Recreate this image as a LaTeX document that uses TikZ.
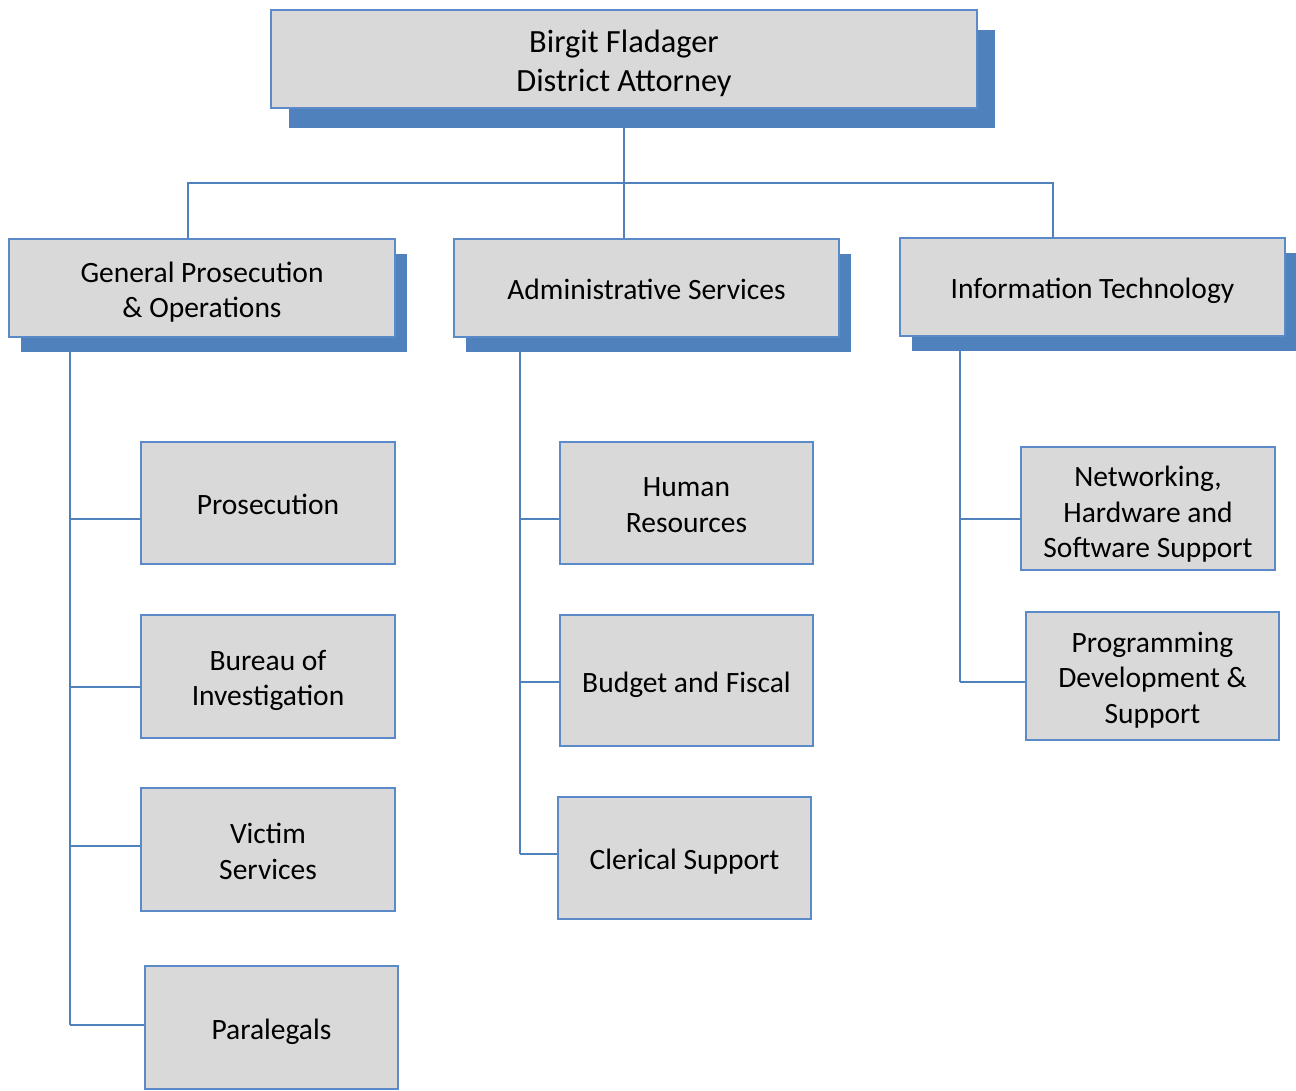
\documentclass[tikz,border=0pt]{standalone}
\usepackage{fontspec}
\setmainfont{Carlito}
\usetikzlibrary{shadows,backgrounds,calc}
\definecolor{dablue}{RGB}{79,129,189}
\definecolor{daline}{RGB}{90,139,200}
\definecolor{dagray}{RGB}{217,217,217}
\tikzset{
  box/.style={draw=daline, line width=1.5pt, fill=dagray, rectangle, inner sep=0pt},
  txt/.style={align=center, text=black, inner sep=0pt, font=\fontsize{29.5}{35.5}\selectfont, yshift=-4pt},
  toptxt/.style={txt, font=\fontsize{32.4}{39}\selectfont},
  topbox/.style={box,
    general shadow={fill=dablue, draw=none, shadow xshift=17.5pt, shadow yshift=-20.5pt}},
  headbox/.style={box, general shadow={fill=dablue, draw=none, shadow xshift=12pt, shadow yshift=-15pt}},
  conn/.style={draw=dablue, line width=1.5pt}
}
\begin{document}
\begin{tikzpicture}[x=1pt,y=-1pt]
\useasboundingbox (0,0) rectangle (1296,1091);
% top
\node[topbox, minimum width=706pt, minimum height=98pt,
  label={[toptxt]center:Birgit Fladager\\District Attorney}] (top) at (624,59) {};
% second level
\node[headbox, minimum width=386pt, minimum height=98pt,
  label={[txt]center:General Prosecution\\\& Operations}] (gpo) at (202,288) {};
\node[headbox, minimum width=385pt, minimum height=98pt,
  label={[txt, yshift=3pt]center:Administrative Services}] (adm) at (646.5,288) {};
\node[headbox, minimum width=385pt, minimum height=98pt,
  label={[txt]center:Information Technology}] (it) at (1092.5,287) {};
% left column
\node[box, minimum width=254pt, minimum height=122pt,
  label={[txt, yshift=3pt]center:Prosecution}] (pros) at (268,503) {};
\node[box, minimum width=254pt, minimum height=123pt,
  label={[txt]center:Bureau of\\Investigation}] (bur) at (268,676.5) {};
\node[box, minimum width=254pt, minimum height=123pt,
  label={[txt, yshift=2pt]center:Victim\\Services}] (vic) at (268,849.5) {};
\node[box, minimum width=253pt, minimum height=123pt,
  label={[txt]center:Paralegals}] (para) at (271.5,1027.5) {};
% middle column
\node[box, minimum width=253pt, minimum height=122pt,
  label={[txt, yshift=2pt]center:Human\\Resources}] (hr) at (686.5,503) {};
\node[box, minimum width=253pt, minimum height=131pt,
  label={[txt]center:Budget and Fiscal}] (bud) at (686.5,680.5) {};
\node[box, minimum width=253pt, minimum height=122pt,
  label={[txt]center:Clerical Support}] (cler) at (684.5,858) {};
% right column
\node[box, minimum width=254pt, minimum height=123pt,
  label={[txt, yshift=-2pt]center:Networking{,}\\Hardware and\\Software Support}] (net) at (1148,508.5) {};
\node[box, minimum width=253pt, minimum height=128pt,
  label={[txt]center:Programming\\Development \&\\Support}] (prog) at (1152.5,676) {};
% coordinates
\coordinate (busL) at (188,183);
\coordinate (busR) at (1053,183);
\coordinate (spL) at (70,0);
\coordinate (spM) at (520,0);
\coordinate (spR) at (960,0);
\coordinate (bpros) at ($(pros.west)+(0,16)$);
\coordinate (bbur) at ($(bur.west)+(0,10.5)$);
\coordinate (bvic) at ($(vic.west)+(0,-3.5)$);
\coordinate (bpara) at ($(para.west)+(0,-2.5)$);
\coordinate (bhr) at ($(hr.west)+(0,16)$);
\coordinate (bbud) at ($(bud.west)+(0,1.5)$);
\coordinate (bcler) at ($(cler.west)+(0,-4)$);
\coordinate (bnet) at ($(net.west)+(0,10.5)$);
\coordinate (bprog) at ($(prog.west)+(0,6)$);
\begin{pgfonlayer}{background}
\draw[conn] (top.south) -- (top.south |- adm.north);
\draw[conn] (busL |- gpo.north) -- (busL) -- (busR) -- (busR |- it.north);
% left spine
\draw[conn] (spL |- gpo.south) -- (spL |- bpara);
\draw[conn] (spL |- bpros) -- (bpros);
\draw[conn] (spL |- bbur) -- (bbur);
\draw[conn] (spL |- bvic) -- (bvic);
\draw[conn] (spL |- bpara) -- (bpara);
% middle spine
\draw[conn] (spM |- adm.south) -- (spM |- bcler);
\draw[conn] (spM |- bhr) -- (bhr);
\draw[conn] (spM |- bbud) -- (bbud);
\draw[conn] (spM |- bcler) -- (bcler);
% right spine
\draw[conn] (spR |- it.south) -- (spR |- bprog);
\draw[conn] (spR |- bnet) -- (bnet);
\draw[conn] (spR |- bprog) -- (bprog);
\end{pgfonlayer}
\end{tikzpicture}
\end{document}
